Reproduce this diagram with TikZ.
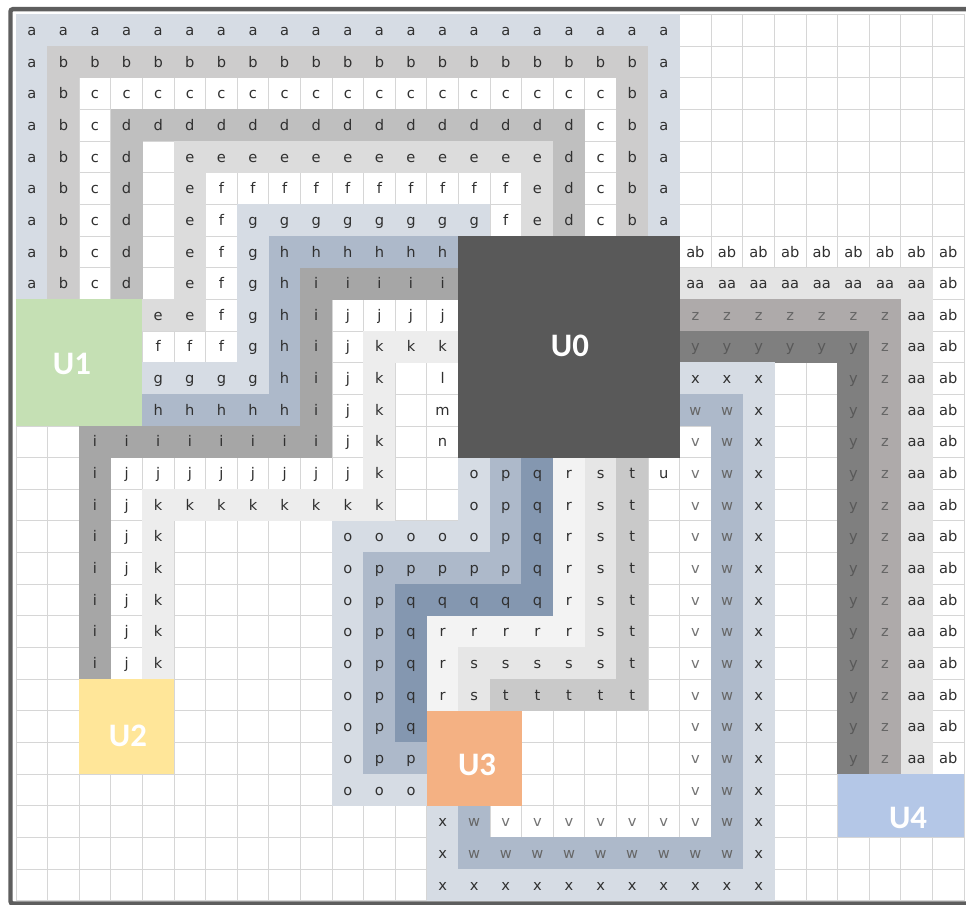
\documentclass[tikz,border=0pt]{standalone}
\usepackage{fontspec}
\usepackage{ifthen}
\usetikzlibrary{fit,calc}
\newfontfamily\cellfont{DejaVu Sans}
\newfontfamily\unitfont{Carlito}
\definecolor{gridc}{HTML}{D6D6D6}
\definecolor{framec}{HTML}{5E5E5E}
\definecolor{txtc}{HTML}{303030}
\definecolor{ca}{HTML}{D6DCE4}
\definecolor{cb}{HTML}{CDCCCC}
\definecolor{cd}{HTML}{BFBFBF}
\definecolor{ce}{HTML}{DCDCDC}
\definecolor{cg}{HTML}{D6DCE4}
\definecolor{ch}{HTML}{ADB9CA}
\definecolor{ci}{HTML}{A6A6A6}
\definecolor{ck}{HTML}{EDEDED}
\definecolor{co}{HTML}{D6DCE4}
\definecolor{cp}{HTML}{ADB9CA}
\definecolor{cq}{HTML}{8497B0}
\definecolor{cr}{HTML}{F3F3F3}
\definecolor{cs}{HTML}{E6E6E6}
\definecolor{ct}{HTML}{C9C9C9}
\definecolor{cw}{HTML}{ADB9CA}
\definecolor{cx}{HTML}{D6DCE4}
\definecolor{cy}{HTML}{7F7F7F}
\definecolor{cz}{HTML}{AEAAAA}
\definecolor{caa}{HTML}{E4E4E4}
\definecolor{uzero}{HTML}{595959}
\definecolor{uone}{HTML}{C5E0B4}
\definecolor{utwo}{HTML}{FFE699}
\definecolor{uthree}{HTML}{F4B183}
\definecolor{ufour}{HTML}{B4C7E7}
\tikzset{
  cell/.style={inner sep=0pt, outer sep=0pt, minimum width=0.958cm, minimum height=0.96cm,
    font=\cellfont\fontsize{12.5}{14}\selectfont, text=txtc, text height=8.8pt, text depth=0pt},
  L-a/.style={fill=ca}, L-b/.style={fill=cb}, L-c/.style={}, L-d/.style={fill=cd},
  L-e/.style={fill=ce}, L-f/.style={}, L-g/.style={fill=cg}, L-h/.style={fill=ch},
  L-i/.style={fill=ci}, L-j/.style={}, L-k/.style={fill=ck}, L-l/.style={},
  L-m/.style={}, L-n/.style={}, L-o/.style={fill=co}, L-p/.style={fill=cp},
  L-q/.style={fill=cq}, L-r/.style={fill=cr}, L-s/.style={fill=cs}, L-t/.style={fill=ct},
  L-u/.style={}, L-v/.style={text=black!55}, L-w/.style={fill=cw, text=black!60},
  L-x/.style={fill=cx}, L-y/.style={fill=cy, text=black!65}, L-z/.style={fill=cz, text=black!60},
  L-aa/.style={fill=caa}, L-ab/.style={},
  gridline/.style={draw=gridc, line width=0.7pt},
  ubox/.style={inner sep=0pt, outer sep=0pt, draw=none},
  ulabel/.style={font=\unitfont\bfseries\fontsize{28}{30}\selectfont, text=white, inner sep=0pt},
  frameline/.style={draw=framec, line width=3.8pt, rounded corners=2pt},
}
\newcommand\gridrow[2]{%
  \foreach \tok [count=\cc from 0] in {#2}{%
    \ifthenelse{\equal{\tok}{-}\OR\equal{\tok}{U}}{}{%
      \node[cell,L-\tok] (n\cc-#1) at (\cc+0.5,#1+0.5) {\tok};}%
  }}
\begin{document}
\begin{tikzpicture}[x=0.948cm,y=-0.9495cm]
\useasboundingbox (-0.50633,-0.45814) rectangle (30.0633,28.1359);
\clip (-0.50633,-0.45814) rectangle (30.0633,28.1359);
\fill[white] (-0.50633,-0.45814) rectangle (30.0633,28.1359);
% grid
\foreach \i in {0,...,30} \draw[gridline] (\i,0) -- (\i,28);
\foreach \j in {0,...,28} \draw[gridline] (0,\j) -- (30,\j);
% cells
\gridrow{0}{a,a,a,a,a,a,a,a,a,a,a,a,a,a,a,a,a,a,a,a,a,-,-,-,-,-,-,-,-,-}
\gridrow{1}{a,b,b,b,b,b,b,b,b,b,b,b,b,b,b,b,b,b,b,b,a,-,-,-,-,-,-,-,-,-}
\gridrow{2}{a,b,c,c,c,c,c,c,c,c,c,c,c,c,c,c,c,c,c,b,a,-,-,-,-,-,-,-,-,-}
\gridrow{3}{a,b,c,d,d,d,d,d,d,d,d,d,d,d,d,d,d,d,c,b,a,-,-,-,-,-,-,-,-,-}
\gridrow{4}{a,b,c,d,-,e,e,e,e,e,e,e,e,e,e,e,e,d,c,b,a,-,-,-,-,-,-,-,-,-}
\gridrow{5}{a,b,c,d,-,e,f,f,f,f,f,f,f,f,f,f,e,d,c,b,a,-,-,-,-,-,-,-,-,-}
\gridrow{6}{a,b,c,d,-,e,f,g,g,g,g,g,g,g,g,f,e,d,c,b,a,-,-,-,-,-,-,-,-,-}
\gridrow{7}{a,b,c,d,-,e,f,g,h,h,h,h,h,h,U,U,U,U,U,U,U,ab,ab,ab,ab,ab,ab,ab,ab,ab}
\gridrow{8}{a,b,c,d,-,e,f,g,h,i,i,i,i,i,U,U,U,U,U,U,U,aa,aa,aa,aa,aa,aa,aa,aa,ab}
\gridrow{9}{U,U,U,U,e,e,f,g,h,i,j,j,j,j,U,U,U,U,U,U,U,z,z,z,z,z,z,z,aa,ab}
\gridrow{10}{U,U,U,U,f,f,f,g,h,i,j,k,k,k,U,U,U,U,U,U,U,y,y,y,y,y,y,z,aa,ab}
\gridrow{11}{U,U,U,U,g,g,g,g,h,i,j,k,-,l,U,U,U,U,U,U,U,x,x,x,-,-,y,z,aa,ab}
\gridrow{12}{U,U,U,U,h,h,h,h,h,i,j,k,-,m,U,U,U,U,U,U,U,w,w,x,-,-,y,z,aa,ab}
\gridrow{13}{-,-,i,i,i,i,i,i,i,i,j,k,-,n,U,U,U,U,U,U,U,v,w,x,-,-,y,z,aa,ab}
\gridrow{14}{-,-,i,j,j,j,j,j,j,j,j,k,-,-,o,p,q,r,s,t,u,v,w,x,-,-,y,z,aa,ab}
\gridrow{15}{-,-,i,j,k,k,k,k,k,k,k,k,-,-,o,p,q,r,s,t,-,v,w,x,-,-,y,z,aa,ab}
\gridrow{16}{-,-,i,j,k,-,-,-,-,-,o,o,o,o,o,p,q,r,s,t,-,v,w,x,-,-,y,z,aa,ab}
\gridrow{17}{-,-,i,j,k,-,-,-,-,-,o,p,p,p,p,p,q,r,s,t,-,v,w,x,-,-,y,z,aa,ab}
\gridrow{18}{-,-,i,j,k,-,-,-,-,-,o,p,q,q,q,q,q,r,s,t,-,v,w,x,-,-,y,z,aa,ab}
\gridrow{19}{-,-,i,j,k,-,-,-,-,-,o,p,q,r,r,r,r,r,s,t,-,v,w,x,-,-,y,z,aa,ab}
\gridrow{20}{-,-,i,j,k,-,-,-,-,-,o,p,q,r,s,s,s,s,s,t,-,v,w,x,-,-,y,z,aa,ab}
\gridrow{21}{-,-,U,U,U,-,-,-,-,-,o,p,q,r,s,t,t,t,t,t,-,v,w,x,-,-,y,z,aa,ab}
\gridrow{22}{-,-,U,U,U,-,-,-,-,-,o,p,q,U,U,U,-,-,-,-,-,v,w,x,-,-,y,z,aa,ab}
\gridrow{23}{-,-,U,U,U,-,-,-,-,-,o,p,p,U,U,U,-,-,-,-,-,v,w,x,-,-,y,z,aa,ab}
\gridrow{24}{-,-,-,-,-,-,-,-,-,-,o,o,o,U,U,U,-,-,-,-,-,v,w,x,-,-,U,U,U,U}
\gridrow{25}{-,-,-,-,-,-,-,-,-,-,-,-,-,x,w,v,v,v,v,v,v,v,w,x,-,-,U,U,U,U}
\gridrow{26}{-,-,-,-,-,-,-,-,-,-,-,-,-,x,w,w,w,w,w,w,w,w,w,x,-,-,-,-,-,-}
\gridrow{27}{-,-,-,-,-,-,-,-,-,-,-,-,-,x,x,x,x,x,x,x,x,x,x,x,-,-,-,-,-,-}
% unit boxes
\node[ubox, fill=uzero, fit={(14,7) (21,14)}] (U0) {};
\node[ubox, fill=uone, fit={(0,9) (4,13)}] (U1) {};
\node[ubox, fill=utwo, fit={(2,21) (5,24)}] (U2) {};
\node[ubox, fill=uthree, fit={(13,22) (16,25)}] (U3) {};
\node[ubox, fill=ufour, fit={(26,24) (30,26)}] (U4) {};
\node[ulabel] (U0t) at (17.53,10.47) {U0};
\node[ulabel] (U1t) at (1.77,11.04) {U1};
\node[ulabel] (U2t) at (3.54,22.8) {U2};
\node[ulabel] (U3t) at (14.59,23.71) {U3};
\node[ulabel] (U4t) at (28.23,25.39) {U4};
% frame
\draw[frameline] (-0.174,-0.167) rectangle (30.4,28.09);
\end{tikzpicture}
\end{document}
